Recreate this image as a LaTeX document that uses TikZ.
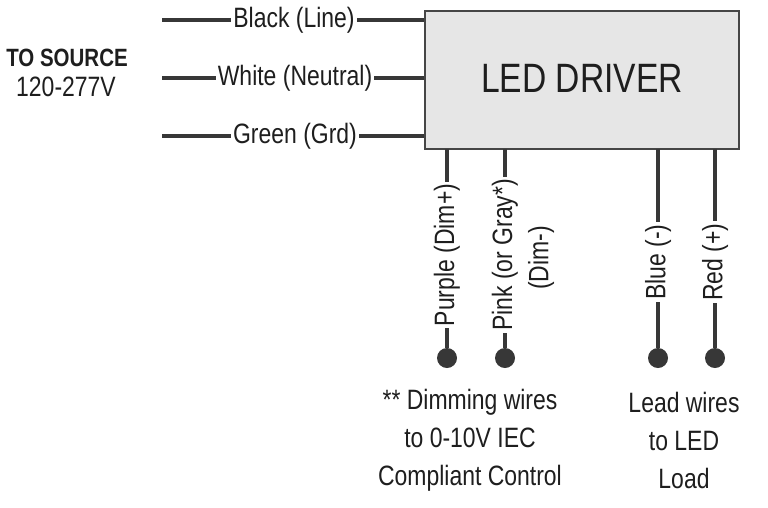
\documentclass[tikz,border=0pt]{standalone}
\usepackage{fontspec}
\setmainfont{Liberation Sans}[FakeStretch=0.82]
\begin{document}
\begin{tikzpicture}[x=1pt,y=-1pt,
  wire/.style={line width=4pt,draw={rgb,255:red,55;green,55;blue,55}},
  lbl/.style={fill=white,inner sep=2pt,font=\fontsize{28}{32}\selectfont,text={rgb,255:red,30;green,30;blue,30}},
  txt/.style={font=\fontsize{28}{38}\selectfont,align=center,text={rgb,255:red,30;green,30;blue,30}},
  dot/.style={circle,fill={rgb,255:red,55;green,55;blue,55},minimum size=20pt,inner sep=0pt}]
\useasboundingbox (0,0) rectangle (768,507);
\node[draw={rgb,255:red,70;green,70;blue,70},line width=2pt,fill={rgb,255:red,230;green,230;blue,230},minimum width=314pt,minimum height=138pt,anchor=north west,inner sep=0pt] (drv) at (424,10) {};
\node[font=\fontsize{41}{46}\selectfont,text={rgb,255:red,30;green,30;blue,30}] (t) at (582,78) {LED DRIVER};
\foreach \y/\n/\t/\c in {20/a/Black (Line)/294, 78/b/White (Neutral)/295, 136/c/Green (Grd)/295}{
  \coordinate (\n0) at (162,\y);
  \coordinate (\n1) at (424,\y);
  \draw[wire] (\n0) -- (\n1);
  \node[lbl] (\n l) at (\c,\y) {\t};
}
\node[txt,font=\fontsize{25}{30}\selectfont\bfseries] (src) at (67,58) {TO SOURCE};
\node[txt,font=\fontsize{28}{32}\selectfont] (v) at (66,87) {120-277V};
\foreach \x/\n/\t/\yl in {447/p/Purple (Dim+)/255, 505/k/Pink (or Gray*)/255, 658/u/Blue (-)/262, 715/r/Red (+)/262}{
  \coordinate (\n0) at (\x,149);
  \node[dot] (\n d) at (\x,358) {};
  \draw[wire] (\n0) -- (\n d);
  \node[lbl,rotate=90] (\n l) at (\x,\yl) {\t};
}
\node[rotate=90,font=\fontsize{28}{32}\selectfont,text={rgb,255:red,30;green,30;blue,30}] (dm) at (541,258) {(Dim-)};
\node[txt] (dimtxt) at (470,440) {** Dimming wires\\to 0-10V IEC\\Compliant Control};
\node[txt] (ledtxt) at (684,440) {Lead wires\\to LED\\Load};
\end{tikzpicture}
\end{document}
